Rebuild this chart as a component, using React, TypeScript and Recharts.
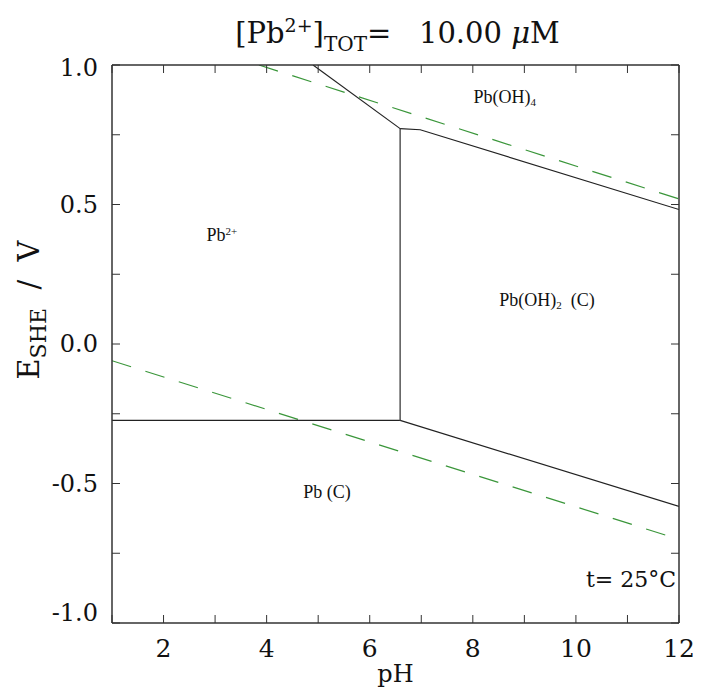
import React from 'react';
import {LineChart, Line, XAxis, YAxis, ReferenceDot} from 'recharts';

// pH ticks (every unit) and potential ticks (every 0.25 V)
const phTicks = [1, 2, 3, 4, 5, 6, 7, 8, 9, 10, 11, 12];
const eTicks = [-1, -0.75, -0.5, -0.25, 0, 0.25, 0.5, 0.75, 1];

// boundary lines (pH, E/V)
const pbPbPh = [1, 6.59];
const pbPbE = [-0.274, -0.274];
const pbHydroxPh = [6.59, 6.59];
const pbHydroxE = [-0.274, 0.772];
const pbPb4Ph = [4.9, 6.59];
const pbPb4E = [1.0, 0.772];
const hydroxPb4Ph = [6.59, 6.98, 12];
const hydroxPb4E = [0.772, 0.768, 0.482];
const hydroxPbPh = [6.59, 12];
const hydroxPbE = [-0.274, -0.582];
const o2Ph = [3.85, 12];
const o2E = [1.0, 0.52];
const h2Ph = [1, 12];
const h2E = [-0.06, -0.7];

type Part = {t: string; s?: 'sub' | 'sup'};
const regionLabels: Part[][] = [
    [{t: 'Pb(OH)'}, {t: '4', s: 'sub'}],
    [{t: 'Pb'}, {t: '2+', s: 'sup'}],
    [{t: 'Pb(OH)'}, {t: '2', s: 'sub'}, {t: '  (C)'}],
    [{t: 'Pb (C)'}],
];
const regionPh = [8.62, 3.13, 9.44, 5.17];
const regionE = [0.885, 0.39, 0.158, -0.53];
const tempLabel = 't= 25°C';
const tempPh = 11.07;
const tempE = -0.84;

const toPoints = (ph: number[], e: number[]) => ph.map((p, i) => ({ph: p, e: e[i]}));

const WIDE = "'DejaVu Serif', serif";
const NARROW = "'Liberation Serif', serif";
const INK = '#111';
const FRAME = '#333';
const TL = 8;

const txt = (size: number, f: string = WIDE): React.CSSProperties => ({fontFamily: f, fontSize: size, fill: INK});

const renderParts = (parts: Part[], small: number) => {
    let shift = 0;
    return parts.map((p, i) => {
        const target = p.s === 'sub' ? 3 : p.s === 'sup' ? -6 : 0;
        const dy = target - shift;
        shift = target;
        return (
            <tspan key={i} dy={dy} style={p.s ? {fontSize: small} : undefined}>{p.t}</tspan>
        );
    });
};

const BottomTick = (props: any) => {
    const {x, y, payload} = props;
    const v = payload.value;
    return (
        <g>
            <line x1={x} y1={y} x2={x} y2={y - TL} stroke={FRAME}/>
            {v % 2 === 0 && (
                <text x={x} y={y + 34} textAnchor="middle" style={txt(25)}>{v}</text>
            )}
        </g>
    );
};

const TopTick = (props: any) => {
    const {x, y} = props;
    return <line x1={x} y1={y} x2={x} y2={y + TL} stroke={FRAME}/>;
};

const LeftTick = (props: any) => {
    const {x, y, payload} = props;
    const v = payload.value;
    const major = Math.abs(v * 2 - Math.round(v * 2)) < 1e-6;
    const off = v === -1 ? -2 : v === 1 ? 11 : 8;
    return (
        <g>
            <line x1={x} y1={y} x2={x + TL} y2={y} stroke={FRAME}/>
            {major && (
                <text x={x - 14} y={y + off} textAnchor="end" style={txt(24)}>
                    {v.toFixed(1)}
                </text>
            )}
        </g>
    );
};

const RightTick = (props: any) => {
    const {x, y} = props;
    return <line x1={x} y1={y} x2={x - TL} y2={y} stroke={FRAME}/>;
};

const YTitle = (props: any) => {
    const {viewBox} = props;
    const cx = viewBox.x + 31;
    const cy = viewBox.y + viewBox.height / 2 - 34;
    return (
        <text x={cx} y={cy} transform={`rotate(-90, ${cx}, ${cy})`} textAnchor="middle"
              style={{...txt(29), whiteSpace: 'pre'}}>
            <tspan>E</tspan>
            <tspan dy={7} style={{fontSize: 22}}>SHE</tspan>
            <tspan dy={-7}>  /  V</tspan>
        </text>
    );
};

const XTitle = (props: any) => {
    const {viewBox} = props;
    return (
        <text x={viewBox.x + viewBox.width / 2} y={viewBox.y + 59} textAnchor="middle"
              style={txt(24)}>pH</text>
    );
};

const MainTitle = (props: any) => {
    const {viewBox} = props;
    return (
        <text x={viewBox.x + viewBox.width / 2 + 2} y={35} textAnchor="middle"
              style={{...txt(29), whiteSpace: 'pre'}}>
            <tspan>[Pb</tspan>
            <tspan dy={-11} style={{fontSize: 19}}>2+</tspan>
            <tspan dy={11}>]</tspan>
            <tspan dy={8} style={{fontSize: 20}}>TOT</tspan>
            <tspan dy={-8}>=   10.00 </tspan>
            <tspan style={{fontStyle: 'italic'}}>μ</tspan>
            <tspan>M</tspan>
        </text>
    );
};

const App: React.FC = () => {
    const lineProps = {
        type: 'linear' as const,
        dataKey: 'e',
        dot: false,
        activeDot: false,
        isAnimationActive: false,
    };
    return (
        <LineChart width={693} height={682} margin={{top: 56, right: 21, bottom: 0, left: 0}}>
            <XAxis dataKey="ph" type="number" domain={[1, 12]} ticks={phTicks} interval={0}
                   allowDataOverflow height={67} tickSize={0} tickMargin={0} tickLine={false}
                   axisLine={{stroke: FRAME, strokeWidth: 1.5}} tick={<BottomTick/>}
                   label={<XTitle/>}/>
            <XAxis xAxisId="top" orientation="top" dataKey="ph" type="number" domain={[1, 12]}
                   ticks={phTicks} interval={0} allowDataOverflow height={1} tickSize={0} tickMargin={0}
                   tickLine={false} axisLine={{stroke: FRAME, strokeWidth: 1.5}} tick={<TopTick/>}
                   label={<MainTitle/>}/>
            <YAxis type="number" domain={[-1, 1]} ticks={eTicks} interval={0} allowDataOverflow
                   width={104} tickSize={0} tickMargin={0} tickLine={false}
                   axisLine={{stroke: FRAME, strokeWidth: 1.5}} tick={<LeftTick/>} label={<YTitle/>}/>
            <YAxis yAxisId="right" orientation="right" type="number" domain={[-1, 1]} ticks={eTicks}
                   interval={0} allowDataOverflow width={1} tickSize={0} tickMargin={0} tickLine={false}
                   axisLine={{stroke: FRAME, strokeWidth: 1.5}} tick={<RightTick/>}/>

            <Line {...lineProps} data={toPoints(o2Ph, o2E)} stroke="#3a963a" strokeWidth={1.2}
                  strokeDasharray="20 15"/>
            <Line {...lineProps} data={toPoints(h2Ph, h2E)} stroke="#3a963a" strokeWidth={1.2}
                  strokeDasharray="20 15"/>
            <Line {...lineProps} data={toPoints(pbPbPh, pbPbE)} stroke="#222" strokeWidth={1.2}/>
            <Line {...lineProps} data={toPoints(pbHydroxPh, pbHydroxE)} stroke="#555" strokeWidth={1.5}/>
            <Line {...lineProps} data={toPoints(pbPb4Ph, pbPb4E)} stroke="#222" strokeWidth={1.2}/>
            <Line {...lineProps} data={toPoints(hydroxPb4Ph, hydroxPb4E)} stroke="#222" strokeWidth={1.2}/>
            <Line {...lineProps} data={toPoints(hydroxPbPh, hydroxPbE)} stroke="#222" strokeWidth={1.2}/>

            {regionLabels.map((parts, i) => (
                <ReferenceDot key={i} x={regionPh[i]} y={regionE[i]} r={0}
                              shape={(p: any) => (
                                  <text x={p.cx} y={p.cy + 6} textAnchor="middle"
                                        style={{...txt(18, NARROW), whiteSpace: 'pre'}}>
                                      {renderParts(parts, 11)}
                                  </text>
                              )}/>
            ))}
            <ReferenceDot x={tempPh} y={tempE} r={0}
                          shape={(p: any) => (
                              <text x={p.cx} y={p.cy + 9} textAnchor="middle" style={txt(22)}>{tempLabel}</text>
                          )}/>
        </LineChart>
    );
};

export default App;
